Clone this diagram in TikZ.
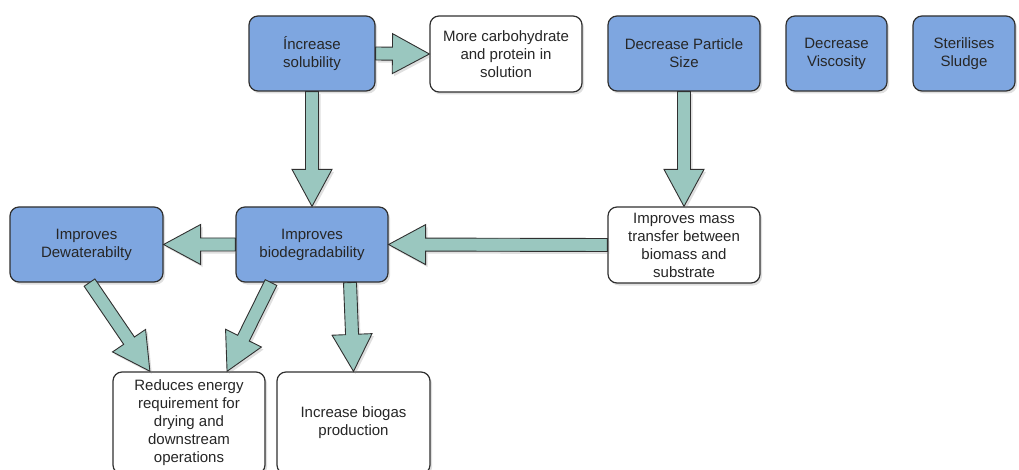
\documentclass[tikz,border=0pt]{standalone}
\usepackage{fontspec}
\setmainfont{Liberation Sans}
\usepackage{tikz}
\usetikzlibrary{shadows,calc}

\definecolor{boxblue}{HTML}{7EA6E0}
\definecolor{arrowteal}{HTML}{9AC7BF}
\definecolor{edgegray}{HTML}{303030}

\tikzset{
  shade/.style={drop shadow={shadow xshift=2pt,shadow yshift=-2.5pt,opacity=0.25}},
  plainbox/.style={draw=edgegray, line width=1.2pt, rounded corners=9pt, fill=white,
    minimum width=152pt, minimum height=75pt, align=center, inner sep=2pt,
    font=\fontsize{15}{18}\selectfont, text=black!85, shade},
  bluebox/.style={plainbox, fill=boxblue},
  fatarr/.style={draw=edgegray, line width=0.9pt, fill=arrowteal, line join=miter, shade}
}

% block arrow from #1 to #2
\newcommand{\fatarrow}[2]{%
  \draw[fatarr] let \p1=(#1), \p2=(#2),
    \n1={atan2(\y2-\y1,\x2-\x1)}, \n2={veclen(\x2-\x1,\y2-\y1)}, \n3={\n2-37} in
    [shift={(\p1)}, rotate=\n1]
    (0,-6.5) -- (\n3,-6.5) -- (\n3,-20) -- (\n2,0) -- (\n3,20) -- (\n3,6.5) -- (0,6.5) -- cycle;}

\begin{document}
\begin{tikzpicture}[x=1pt,y=-1pt]
    \useasboundingbox (0,0) rectangle (1019,470);
    \fill[white] (0,0) rectangle (1019,470);
    \clip (0,0) rectangle (1019,470);

    % top row
    \node[bluebox, minimum width=126pt] (solub) at (312,53.5) {Íncrease\\solubility};
    \node[plainbox, minimum height=76pt] (carbo) at (506,54) {More carbohydrate\\and protein in\\solution};
    \node[bluebox] (particle) at (684,53.5) {Decrease Particle\\Size};
    \node[bluebox, minimum width=101pt] (visco) at (836.5,53.5) {Decrease\\Viscosity};
    \node[bluebox, minimum width=102pt] (steril) at (964,53.5) {Sterilises\\Sludge};

    % middle row
    \node[bluebox, minimum width=153pt] (dewater) at (86.5,244.5) {Improves\\Dewaterabilty};
    \node[bluebox] (biodeg) at (312,244.5) {Improves\\biodegradability};
    \node[plainbox, minimum height=76pt] (masstr) at (684,245) {Improves mass\\transfer between\\biomass and\\substrate};

    % bottom row
    \node[plainbox, minimum height=102pt] (reduce) at (189,423) {Reduces energy\\requirement for\\drying and\\downstream\\operations};
    \node[plainbox, minimum width=153pt, minimum height=102pt] (biogas) at (353.5,423) {Increase biogas\\production};

    % arrows
    \fatarrow{solub.east}{carbo.west}
    \fatarrow{solub.south}{biodeg.north}
    \fatarrow{particle.south}{masstr.north}
    \fatarrow{masstr.west}{biodeg.east}
    \fatarrow{biodeg.west}{dewater.east}
    \fatarrow{[xshift=3pt]dewater.south}{[xshift=-39pt]reduce.north}
    \fatarrow{[xshift=-41pt]biodeg.south}{[xshift=38pt]reduce.north}
    \fatarrow{[xshift=38pt]biodeg.south}{biogas.north}

\end{tikzpicture}
\end{document}
